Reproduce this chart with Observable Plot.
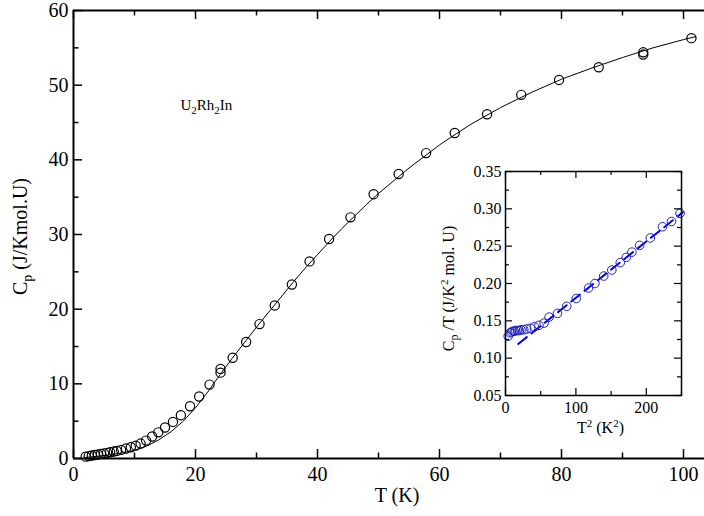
<!DOCTYPE html>
<html><head><meta charset="utf-8">
<script src="https://cdn.jsdelivr.net/npm/d3@7"></script>
<script src="https://cdn.jsdelivr.net/npm/@observablehq/plot@0.6"></script>
<style>
body{margin:0;background:#fff;}
#wrap{position:relative;width:704px;height:516px;overflow:hidden;background:#fff;}
#inset{position:absolute;left:428px;top:160px;}
#wrap svg, #wrap svg text, #wrap svg tspan{font-family:"Liberation Serif","Times New Roman",Times,serif !important;}
</style></head><body>
<div id="wrap"><div id="main"></div><div id="inset"></div></div>
<script>
// Main panel: measured specific heat
const mainT  = [2.0, 2.5, 3.0, 3.5, 4.0, 4.5, 5.0, 5.5, 6.0, 6.6, 7.1, 7.8, 8.6, 9.4, 10.2, 11.0, 11.9, 12.9, 13.9, 15.0, 16.3, 17.6, 19.1, 20.6, 22.3, 24.1, 24.1, 26.1, 28.3, 30.5, 33.0, 35.8, 38.7, 41.9, 45.4, 49.2, 53.3, 57.8, 62.5, 67.8, 73.4, 79.6, 86.1, 93.4, 93.4, 101.3];
const mainCp = [0.25, 0.32, 0.40, 0.47, 0.54, 0.62, 0.69, 0.76, 0.84, 0.93, 1.02, 1.15, 1.33, 1.50, 1.72, 2.00, 2.40, 2.95, 3.50, 4.15, 4.90, 5.80, 7.00, 8.30, 9.90, 11.5, 12.0, 13.5, 15.6, 18.0, 20.5, 23.3, 26.4, 29.4, 32.3, 35.4, 38.1, 40.9, 43.6, 46.1, 48.7, 50.7, 52.4, 54.1, 54.4, 56.3];
// Main panel: fitted curve
const fitT  = [2, 4, 6, 8, 10, 12, 14, 16, 18, 20, 22, 24, 26, 28, 30, 33, 36, 38, 40, 42, 44, 46, 48, 50, 55, 60, 65, 70, 75, 80, 85, 90, 95, 100, 102];
const fitCp = [0.15, 0.3, 0.5, 0.75, 1.1, 1.65, 2.5, 3.6, 5.0, 6.8, 8.9, 11.2, 13.4, 15.5, 17.6, 20.6, 23.6, 25.5, 27.3, 29.1, 30.8, 32.4, 34.0, 35.5, 38.9, 42.0, 44.7, 47.0, 49.0, 50.8, 52.3, 53.7, 55.0, 56.1, 56.5];
// Inset: Cp/T vs T^2
const insetT2  = [3.8, 6.5, 8.5, 10.5, 12.5, 14.5, 17, 19.5, 22, 26, 30, 35.5, 41, 47.5, 54.8, 62, 73.8, 87, 100.5, 118, 127, 139.5, 151, 163, 171.5, 179.5, 190.5, 205.7, 223, 235.7, 248];
const insetCpT = [0.1295, 0.134, 0.135, 0.136, 0.136, 0.137, 0.137, 0.137, 0.138, 0.138, 0.139, 0.140, 0.142, 0.144, 0.147, 0.155, 0.160, 0.1695, 0.180, 0.194, 0.200, 0.210, 0.218, 0.228, 0.235, 0.242, 0.251, 0.261, 0.276, 0.283, 0.294];
const lineT2  = [18, 252];
const lineCpT = [0.119, 0.2955];
// Ticks
const mainXTicks = [0, 20, 40, 60, 80, 100];
const mainXMinor = [10, 30, 50, 70, 90];
const mainYTicks = [0, 10, 20, 30, 40, 50, 60];
const mainYMinor = [5, 15, 25, 35, 45, 55];
const insetXTicks = [0, 100, 200];
const insetXMinor = [50, 150, 250];
const insetYTicks = [0.05, 0.10, 0.15, 0.20, 0.25, 0.30, 0.35];
const insetYMinor = [0.075, 0.125, 0.175, 0.225, 0.275, 0.325];

const mainPts = mainT.map((t, i) => ({T: t, Cp: mainCp[i]}));
const fitPts = fitT.map((t, i) => ({T: t, Cp: fitCp[i]}));
const insetPts = insetT2.map((t, i) => ({T2: t, v: insetCpT[i]}));
const linePts = lineT2.map((t, i) => ({T2: t, v: lineCpT[i]}));

function rich(svg, map) {
  svg.querySelectorAll("text").forEach(t => {
    const k = t.textContent;
    if (map[k]) t.innerHTML = map[k];
  });
}

const W = 704, H = 516, mL = 73, mT = 10, mR = 0, mB = 58;
const iW = W - mL - mR, iH = H - mT - mB;
const font = "Liberation Serif, Times New Roman, serif";

const main = Plot.plot({
  width: W, height: H,
  marginLeft: mL, marginTop: mT, marginRight: mR, marginBottom: mB,
  style: {fontFamily: font, fontSize: "20px", background: "#fff", color: "#000"},
  x: {domain: [0, iW / 6.1]},
  y: {domain: [0, 60]},
  marks: [
    Plot.line(fitPts, {x: "T", y: "Cp", stroke: "black", strokeWidth: 1}),
    Plot.dot(mainPts, {x: "T", y: "Cp", r: 4.6, stroke: "black", strokeWidth: 1.2, fill: "none"}),
    Plot.tickX(mainXTicks, {x: d => d, insetTop: iH - 9, strokeWidth: 1.5}),
    Plot.tickX(mainXTicks, {x: d => d, insetBottom: iH - 9, strokeWidth: 1.5}),
    Plot.tickX(mainXMinor, {x: d => d, insetTop: iH - 5.5, strokeWidth: 1.5}),
    Plot.tickX(mainXMinor, {x: d => d, insetBottom: iH - 5.5, strokeWidth: 1.5}),
    Plot.tickY(mainYTicks, {y: d => d, insetRight: iW - 9, strokeWidth: 1.5}),
    Plot.tickY(mainYMinor, {y: d => d, insetRight: iW - 5.5, strokeWidth: 1.5}),
    Plot.ruleX([0], {strokeWidth: 2}),
    Plot.ruleY([0, 60], {strokeWidth: 2}),
    Plot.axisX({ticks: mainXTicks, tickSize: 0, tickPadding: 8, label: null, fontSize: 20}),
    Plot.axisY({ticks: mainYTicks, tickSize: 0, tickPadding: 5, label: null, fontSize: 20}),
    Plot.text(["T (K)"], {frameAnchor: "bottom", dx: 8, dy: 43, lineAnchor: "bottom", fontSize: 20}),
    Plot.text(["Cp (J/Kmol.U)"], {frameAnchor: "left", dx: -53, dy: 2, rotate: -90, textAnchor: "middle", lineAnchor: "middle", fontSize: 20}),
    Plot.text(["U2Rh2In"], {frameAnchor: "top-left", dx: 107, dy: 99, textAnchor: "start", lineAnchor: "bottom", fontSize: 15})
  ]
});
rich(main, {
  "Cp (J/Kmol.U)": 'C<tspan dy="5" font-size="14">p</tspan><tspan dy="-5"> (J/Kmol.U)</tspan>',
  "U2Rh2In": 'U<tspan dy="4" font-size="11">2</tspan><tspan dy="-4">Rh</tspan><tspan dy="4" font-size="11">2</tspan><tspan dy="-4">In</tspan>'
});
document.getElementById("main").append(main);

const IW = 262, IH = 280, imL = 77, imT = 11, imR = 9, imB = 45;
const iiW = IW - imL - imR, iiH = IH - imT - imB;
const inset = Plot.plot({
  width: IW, height: IH,
  marginLeft: imL, marginTop: imT, marginRight: imR, marginBottom: imB,
  style: {fontFamily: font, fontSize: "16px", background: "#fff", color: "#000"},
  x: {domain: [0, 250]},
  y: {domain: [0.05, 0.35]},
  marks: [
    Plot.line(linePts, {x: "T2", y: "v", stroke: "#0000ff", strokeWidth: 2, strokeDasharray: "11,6"}),
    Plot.dot(insetPts, {x: "T2", y: "v", r: 4.3, stroke: "#2020c0", strokeWidth: 1, fill: "none"}),
    Plot.tickX(insetXTicks, {x: d => d, insetTop: iiH - 7, strokeWidth: 1.2}),
    Plot.tickX(insetXTicks, {x: d => d, insetBottom: iiH - 7, strokeWidth: 1.2}),
    Plot.tickX(insetXMinor, {x: d => d, insetTop: iiH - 4, strokeWidth: 1.2}),
    Plot.tickX(insetXMinor, {x: d => d, insetBottom: iiH - 4, strokeWidth: 1.2}),
    Plot.tickY(insetYTicks, {y: d => d, insetRight: iiW - 7, strokeWidth: 1.2}),
    Plot.tickY(insetYTicks, {y: d => d, insetLeft: iiW - 7, strokeWidth: 1.2}),
    Plot.tickY(insetYMinor, {y: d => d, insetRight: iiW - 4, strokeWidth: 1.2}),
    Plot.tickY(insetYMinor, {y: d => d, insetLeft: iiW - 4, strokeWidth: 1.2}),
    Plot.frame({strokeWidth: 1.5}),
    Plot.axisX({ticks: insetXTicks, tickSize: 0, tickPadding: 6, label: null, fontSize: 16}),
    Plot.axisY({ticks: insetYTicks, tickSize: 0, tickPadding: 4, tickFormat: d3.format(".2f"), label: null, fontSize: 16}),
    Plot.text(["T2 (K2)"], {frameAnchor: "bottom", dx: 7, dy: 37, lineAnchor: "bottom", fontSize: 16}),
    Plot.text(["Cp /T (J/K2 mol. U)"], {frameAnchor: "left", dx: -57, dy: 5, rotate: -90, textAnchor: "middle", lineAnchor: "middle", fontSize: 16})
  ]
});
rich(inset, {
  "T2 (K2)": 'T<tspan dy="-6" font-size="11">2</tspan><tspan dy="6"> (K</tspan><tspan dy="-6" font-size="11">2</tspan><tspan dy="6">)</tspan>',
  "Cp /T (J/K2 mol. U)": 'C<tspan dy="4" font-size="12">p</tspan><tspan dy="-4"> /T (J/K</tspan><tspan dy="-6" font-size="11">2</tspan><tspan dy="6"> mol. U)</tspan>'
});
document.getElementById("inset").append(inset);
</script>
</body></html>
